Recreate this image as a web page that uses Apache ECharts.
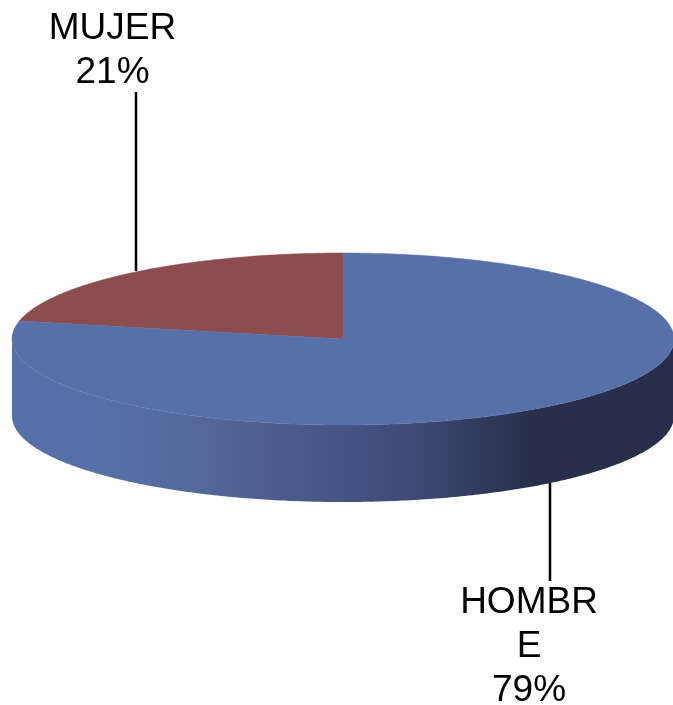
<!DOCTYPE html>
<html>
<head>
<meta charset="utf-8">
<style>html,body{margin:0;padding:0;background:#fff}#c{width:673px;height:705px}</style>
<script src="https://cdn.jsdelivr.net/npm/echarts@6/dist/echarts.min.js"></script>
</head>
<body>
<div id="c"></div>
<script>
var categories = ["MUJER", "HOMBRE"];
var labelTexts = ["MUJER", "HOMBR\nE"];
var values = [21, 79];
var colors = ["#8b4d4e", "#5870a8"];

var CX = 343, CY = 339, RX = 331, RY = 86, DEPTH = 77, LINE_H = 44;
var leaders = [
  {x: 136, y1: 92, y2: 271, tx: 112.5, ty: 29},
  {x: 550, y1: 483, y2: 581, tx: 529, ty: 603}
];
var total = values.reduce(function (a, b) { return a + b; }, 0);

function pt(a, dy) {
  var warped = a + 0.087 * Math.sin(2 * a);
  return [CX - RX * Math.sin(warped), CY - RY * Math.cos(warped) + (dy || 0)];
}
function arc(a0, a1, dy) {
  var n = Math.max(2, Math.ceil(Math.abs(a1 - a0) / 0.01)), out = [];
  for (var i = 0; i <= n; i++) out.push(pt(a0 + (a1 - a0) * i / n, dy));
  return out;
}
var wallFill = new echarts.graphic.LinearGradient(0, 0, 1, 0, [
  {offset: 0, color: "#5570a8"},
  {offset: 0.14, color: "#5670a8"},
  {offset: 0.28, color: "#54689c"},
  {offset: 0.41, color: "#4a5c8c"},
  {offset: 0.51, color: "#445482"},
  {offset: 0.61, color: "#3c4a75"},
  {offset: 0.71, color: "#303a5c"},
  {offset: 0.79, color: "#272f4a"},
  {offset: 1, color: "#272f4a"}
]);

var option = {
  animation: false,
  backgroundColor: "#ffffff",
  series: [{
    type: "custom",
    coordinateSystem: "none",
    silent: true,
    data: categories.map(function (c, i) { return {name: c, value: [values[i], i]}; }),
    renderItem: function (params, api) {
      var idx = api.value(1), v = api.value(0), start = 0;
      for (var k = 0; k < idx; k++) start += values[k];
      var a0 = start / total * 2 * Math.PI, a1 = (start + v) / total * 2 * Math.PI;
      var children = [];
      var L = leaders[idx];
      children.push({type: "line", z2: 1, shape: {x1: L.x, y1: L.y1, x2: L.x, y2: L.y2},
        style: {stroke: "#000", lineWidth: 2.5}});
      // visible front wall: the part of this slice on the near half of the ellipse
      var f0 = Math.max(a0, Math.PI / 2), f1 = Math.min(a1, 3 * Math.PI / 2);
      if (f1 > f0) {
        var top = arc(f0, f1, 0), bottom = arc(f1, f0, DEPTH);
        children.push({type: "polygon", z2: 2, shape: {points: top.concat(bottom)},
          style: {fill: wallFill, stroke: null}});
      }
      children.push({type: "polygon", z2: 3,
        shape: {points: [[CX, CY]].concat(arc(a0, a1, 0))},
        style: {fill: colors[idx], stroke: colors[idx], lineWidth: 0.5}});
      var lines = labelTexts[idx].split("\n").concat([Math.round(v) + "%"]);
      lines.forEach(function (t, j) {
        children.push({type: "text", z2: 4,
          style: {x: L.tx, y: L.ty + j * LINE_H, text: t, fill: "#000",
            font: "37px 'Liberation Sans'", align: "center", verticalAlign: "middle"}});
      });
      return {type: "group", children: children};
    }
  }]
};
echarts.init(document.getElementById("c"), null, {renderer: "canvas"}).setOption(option);
</script>
</body>
</html>
